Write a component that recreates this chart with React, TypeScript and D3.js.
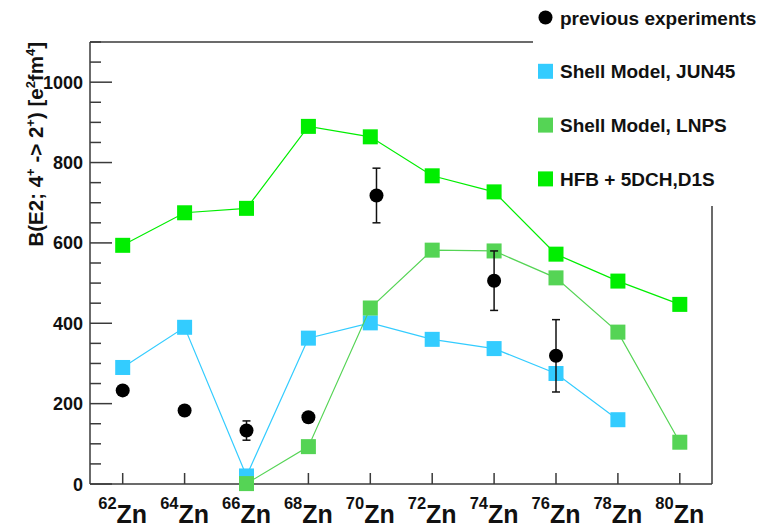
import React from "react";
import * as d3 from "d3";

const isotopes = [62, 64, 66, 68, 70, 72, 74, 76, 78, 80];
const yTicksMajor = [0, 200, 400, 600, 800, 1000];

const hfbX = [62, 64, 66, 68, 70, 72, 74, 76, 78, 80];
const hfbY = [594, 675, 686, 890, 864, 767, 727, 572, 505, 447];

const lnpsX = [66, 68, 70, 72, 74, 76, 78, 80];
const lnpsY = [1, 93, 438, 582, 580, 513, 378, 104];

const junX = [62, 64, 66, 68, 70, 72, 74, 76, 78];
const junY = [290, 390, 20, 363, 401, 360, 337, 275, 160];

const expX = [62, 64, 66, 68, 70.2, 74, 76];
const expY = [233, 183, 133, 166, 718, 506, 319];
const expErr = [8, 8, 24, 6, 68, 74, 90];

const legendLabels = [
  "previous experiments",
  "Shell Model, JUN45",
  "Shell Model, LNPS",
  "HFB + 5DCH,D1S",
];

const COL_HFB = "#00ee00";
const COL_LNPS = "#55d455";
const COL_JUN = "#33ccff";
const AX = "#3a3a3a";
const FONT = "'Liberation Sans', Arial, Helvetica, sans-serif";

export default function App() {
  const left = 90, right = 712, top = 42, bottom = 484;
  const x = d3.scaleLinear().domain([62, 80]).range([122.7, 679.8]);
  const y = d3.scaleLinear().domain([0, 1100]).range([bottom, top]);
  const line = d3.line<[number, number]>().x(d => x(d[0])).y(d => y(d[1]));
  const minor = d3.range(0, 1100 + 1, 50).filter(v => v % 200 !== 0);
  const sq = 15;

  const series = [
    { xs: junX, ys: junY, c: COL_JUN },
    { xs: lnpsX, ys: lnpsY, c: COL_LNPS },
    { xs: hfbX, ys: hfbY, c: COL_HFB },
  ];

  return (
    <svg width={770} height={528} style={{ position: "absolute", left: 0, top: 0, background: "#fff" }} fontFamily={FONT}>
      <rect x={0} y={0} width={770} height={528} fill="#fff" />
      {/* frame */}
      <line x1={left} y1={top} x2={533} y2={top} stroke={AX} strokeWidth={1.5} />
      <line x1={left} y1={top} x2={left} y2={bottom} stroke={AX} strokeWidth={1.5} />
      <line x1={left} y1={bottom} x2={right} y2={bottom} stroke={AX} strokeWidth={1.5} />
      <line x1={right} y1={206} x2={right} y2={bottom} stroke={AX} strokeWidth={1.5} />
      {/* y ticks */}
      {yTicksMajor.map(v => (
        <g key={"ym" + v}>
          <line x1={left} x2={left + 22} y1={y(v)} y2={y(v)} stroke={AX} strokeWidth={1.5} />
          <text x={83} y={y(v) + 6.5} textAnchor="end" fontSize={18} fontWeight="bold" fill="#111">{v}</text>
        </g>
      ))}
      {minor.map(v => (
        <line key={"yn" + v} x1={left} x2={left + 11} y1={y(v)} y2={y(v)} stroke={AX} strokeWidth={1.5} />
      ))}
      {/* x ticks */}
      {isotopes.map(v => (
        <g key={"x" + v}>
          <line x1={x(v)} x2={x(v)} y1={bottom} y2={bottom - 11} stroke={AX} strokeWidth={1.5} />
          <text x={x(v)} y={523} textAnchor="middle" fontWeight="bold" fill="#111">
            <tspan fontSize={16.5} dy={-14}>{v}</tspan>
            <tspan fontSize={25} dy={14}>Zn</tspan>
          </text>
        </g>
      ))}
      {/* y label */}
      <text transform={`translate(43,${top}) rotate(-90)`} textAnchor="end" fontSize={20.5} fontWeight="bold" fill="#111">
        <tspan>B(E2; 4</tspan>
        <tspan fontSize={13} dy={-8}>+</tspan>
        <tspan dy={8}> -&gt; 2</tspan>
        <tspan fontSize={13} dy={-8}>+</tspan>
        <tspan dy={8}>) [e</tspan>
        <tspan fontSize={13} dy={-8}>2</tspan>
        <tspan dy={8}>fm</tspan>
        <tspan fontSize={13} dy={-8}>4</tspan>
        <tspan dy={8}>]</tspan>
      </text>
      {/* series */}
      {series.map((s, i) => {
        const pts = s.xs.map((xv, j) => [xv, s.ys[j]] as [number, number]);
        return (
          <g key={"s" + i}>
            <path d={line(pts) || ""} fill="none" stroke={s.c} strokeWidth={1.2} />
            {pts.map((p, j) => (
              <rect key={j} x={x(p[0]) - sq / 2} y={y(p[1]) - sq / 2} width={sq} height={sq} fill={s.c} />
            ))}
          </g>
        );
      })}
      {/* experiments */}
      {expX.map((xv, i) => {
        const cx = x(xv), cy = y(expY[i]);
        const t = y(expY[i] + expErr[i]), b = y(expY[i] - expErr[i]);
        return (
          <g key={"e" + i}>
            <line x1={cx} x2={cx} y1={t} y2={b} stroke="#111" strokeWidth={1.5} />
            <line x1={cx - 4} x2={cx + 4} y1={t} y2={t} stroke="#111" strokeWidth={1.5} />
            <line x1={cx - 4} x2={cx + 4} y1={b} y2={b} stroke="#111" strokeWidth={1.5} />
            <circle cx={cx} cy={cy} r={7} fill="#000" />
          </g>
        );
      })}
      {/* legend */}
      {legendLabels.map((lab, i) => {
        const by = 24.5 + i * 53.8;
        const my = by - 7;
        const col = [null, COL_JUN, COL_LNPS, COL_HFB][i];
        return (
          <g key={"l" + i}>
            {i === 0 ? (
              <circle cx={545.5} cy={my} r={7} fill="#000" />
            ) : (
              <rect x={545.5 - 7.5} y={my - 7.5} width={15} height={15} fill={col as string} />
            )}
            <text x={560} y={by} fontSize={19} fontWeight="bold" fill="#111">{lab}</text>
          </g>
        );
      })}
    </svg>
  );
}
